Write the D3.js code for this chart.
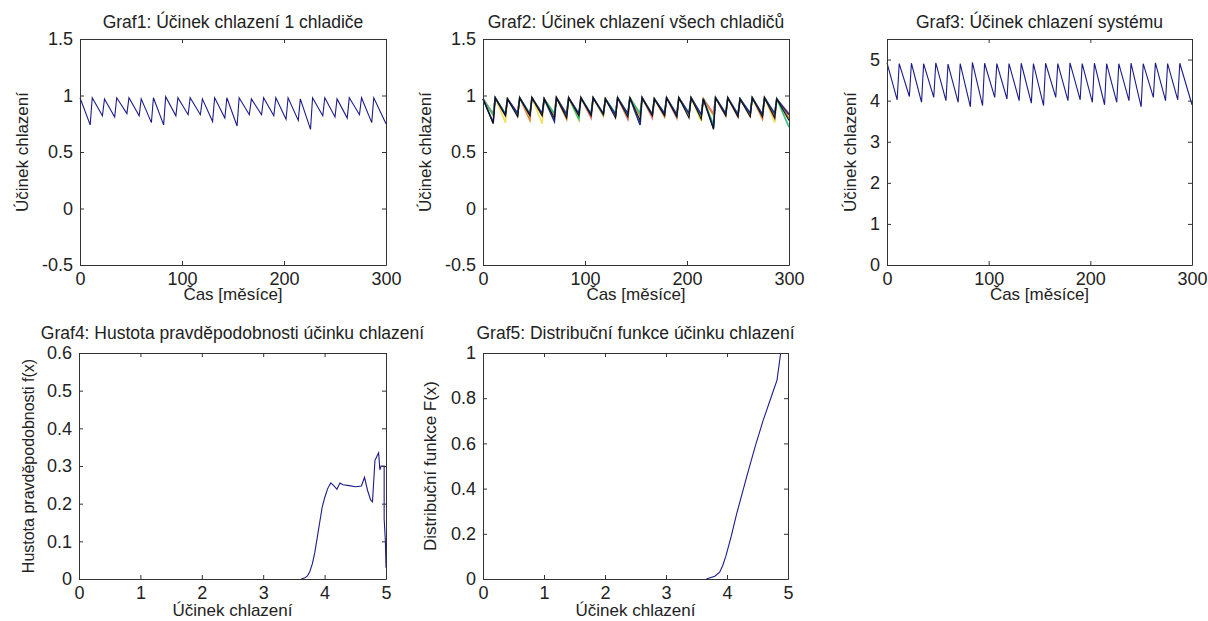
<!DOCTYPE html>
<html>
<head>
<meta charset="utf-8">
<script src="https://cdn.jsdelivr.net/npm/d3@7"></script>
<style>
  body { margin: 0; background: #fff; }
  svg text { font-family: Arial, "Liberation Sans", sans-serif; fill: #222; }
  .axis path, .axis line { stroke: #333; }
</style>
</head>
<body>
<svg id="fig" width="1208" height="621"></svg>
<script>
// time axis of the sawtooth plots (months)
var peakMonths = [0,12,24,36,48,60,72,84,96,108,120,132,144,156,168,180,192,204,216,228,240,252,264,276,288];
var troughMonths = [10,22,34,46,58,70,82,94,106,118,130,142,154,166,178,190,202,214,226,238,250,262,274,286,300];

// Graf1 - one cooler
var g1Peaks = [0.98,0.98,0.97,0.98,0.98,0.97,0.98,0.99,0.98,0.98,0.97,0.98,0.98,0.98,0.97,0.98,0.98,0.98,0.97,0.98,0.98,0.97,0.98,0.98,0.98];
var g1Troughs = [0.74,0.82,0.81,0.84,0.82,0.76,0.74,0.82,0.83,0.83,0.77,0.80,0.73,0.83,0.83,0.82,0.79,0.78,0.70,0.82,0.81,0.80,0.83,0.76,0.75];

// Graf2 - all coolers
var g2Peaks = [0.97,0.98,0.97,0.98,0.98,0.97,0.98,0.98,0.98,0.98,0.97,0.98,0.98,0.98,0.97,0.98,0.98,0.98,0.97,0.98,0.98,0.97,0.98,0.98,0.97];
var g2Names = ["yellow","orange","red","green","blue","black"];
var g2Colors = ["#f2e25a","#d98a3a","#e07a6e","#3cc07e","#1e2f8c","#111111"];
var g2Yellow = [0.82,0.76,0.83,0.82,0.75,0.83,0.82,0.78,0.83,0.82,0.83,0.82,0.83,0.82,0.83,0.82,0.83,0.77,0.82,0.83,0.82,0.83,0.82,0.76,0.82];
var g2Orange = [0.83,0.82,0.83,0.78,0.82,0.83,0.79,0.82,0.83,0.82,0.83,0.80,0.82,0.83,0.81,0.82,0.83,0.82,0.83,0.82,0.83,0.82,0.79,0.82,0.80];
var g2Red    = [0.84,0.83,0.84,0.83,0.84,0.83,0.84,0.83,0.80,0.84,0.83,0.79,0.84,0.80,0.83,0.80,0.84,0.83,0.84,0.83,0.81,0.84,0.83,0.80,0.84];
var g2Green  = [0.83,0.84,0.83,0.84,0.83,0.84,0.83,0.79,0.84,0.83,0.84,0.83,0.84,0.83,0.84,0.83,0.84,0.82,0.74,0.84,0.83,0.84,0.83,0.84,0.72];
var g2Blue   = [0.76,0.83,0.84,0.83,0.84,0.77,0.83,0.84,0.83,0.84,0.83,0.84,0.74,0.83,0.84,0.83,0.84,0.83,0.71,0.84,0.83,0.84,0.83,0.84,0.83];
var g2Black  = [0.75,0.82,0.81,0.82,0.82,0.80,0.80,0.82,0.82,0.83,0.80,0.81,0.78,0.82,0.82,0.81,0.80,0.79,0.70,0.82,0.81,0.81,0.81,0.80,0.78];

// Graf3 - system
var g3Peaks = [4.92,4.90,4.91,4.90,4.92,4.89,4.90,4.93,4.91,4.90,4.90,4.91,4.90,4.91,4.90,4.92,4.90,4.91,4.90,4.90,4.91,4.90,4.92,4.90,4.91];
var g3Troughs = [4.02,4.10,3.96,4.08,4.00,3.96,3.85,3.88,4.08,4.04,4.00,3.94,3.88,4.08,4.00,4.02,3.96,3.90,3.96,4.00,3.85,4.08,4.00,4.02,3.90];

// Graf4 - density
var densX = [3.62,3.68,3.72,3.76,3.80,3.84,3.88,3.92,3.96,4.00,4.05,4.10,4.15,4.20,4.25,4.30,4.40,4.50,4.60,4.65,4.70,4.75,4.78,4.82,4.85,4.88,4.90,4.92,4.97,4.97,4.99,5.00];
var densY = [0.00,0.003,0.008,0.02,0.04,0.07,0.11,0.15,0.19,0.215,0.24,0.255,0.248,0.238,0.255,0.25,0.248,0.245,0.247,0.27,0.235,0.21,0.205,0.315,0.325,0.335,0.29,0.30,0.30,0.16,0.10,0.03];

// Graf5 - distribution function
var cdfX = [3.66,3.80,3.88,3.93,3.98,4.07,4.16,4.32,4.46,4.59,4.75,4.82,4.88];
var cdfY = [0.00,0.012,0.03,0.06,0.10,0.19,0.29,0.45,0.585,0.70,0.825,0.88,1.00];

var timeTicks = [0,100,200,300];
var effTicks = [0,1,2,3,4,5];

function sawtooth(peaks, troughs) {
  var pts = [];
  for (var i = 0; i < peakMonths.length; i++) {
    pts.push([peakMonths[i], peaks[i]]);
    pts.push([troughMonths[i], troughs[i]]);
  }
  return pts;
}

function zip(xs, ys) {
  return xs.map(function(x, i) { return [x, ys[i]]; });
}

var svg = d3.select("#fig");
var fmt = function(d) { return String(+d.toFixed(2)); };

function panel(cfg) {
  var x = d3.scaleLinear().domain(cfg.xDomain).range([cfg.left, cfg.right]);
  var y = d3.scaleLinear().domain(cfg.yDomain).range([cfg.bottom, cfg.top]);
  var g = svg.append("g");

  var line = d3.line().x(function(d) { return x(d[0]); }).y(function(d) { return y(d[1]); });
  cfg.series.forEach(function(s) {
    g.append("path")
      .attr("d", line(s.data))
      .attr("fill", "none")
      .attr("stroke", s.color)
      .attr("stroke-width", s.width || 1.1);
  });

  // box + inward ticks, MATLAB style
  g.append("g").attr("class", "axis")
    .attr("transform", "translate(0," + cfg.bottom + ")")
    .call(d3.axisBottom(x).tickValues(cfg.xTicks).tickSizeInner(-4).tickSizeOuter(0).tickFormat(fmt))
    .selectAll("text").attr("font-size", 18).attr("y", 20).attr("dy", null);
  g.append("g").attr("class", "axis")
    .attr("transform", "translate(0," + cfg.top + ")")
    .call(d3.axisTop(x).tickValues(cfg.xTicks).tickSizeInner(-4).tickSizeOuter(0).tickFormat(""));
  g.append("g").attr("class", "axis")
    .attr("transform", "translate(" + cfg.left + ",0)")
    .call(d3.axisLeft(y).tickValues(cfg.yTicks).tickSizeInner(-4).tickSizeOuter(0).tickPadding(7).tickFormat(fmt))
    .selectAll("text").attr("font-size", 18);
  g.append("g").attr("class", "axis")
    .attr("transform", "translate(" + cfg.right + ",0)")
    .call(d3.axisRight(y).tickValues(cfg.yTicks).tickSizeInner(-4).tickSizeOuter(0).tickFormat(""));

  g.append("text")
    .attr("x", (cfg.left + cfg.right) / 2).attr("y", cfg.titleY)
    .attr("text-anchor", "middle").attr("font-size", 17.5)
    .text(cfg.title);
  g.append("text")
    .attr("x", (cfg.left + cfg.right) / 2).attr("y", cfg.xLabelY)
    .attr("text-anchor", "middle").attr("font-size", 17)
    .text(cfg.xLabel);
  g.append("text")
    .attr("transform", "translate(" + cfg.yLabelX + "," + (cfg.top + cfg.bottom) / 2 + ") rotate(-90)")
    .attr("text-anchor", "middle").attr("dy", "0.35em").attr("font-size", cfg.yLabelSize || 17)
    .text(cfg.yLabel);
}

var navy = "#1c1c8a";

panel({
  left: 80, right: 386, top: 39, bottom: 265, titleY: 28, xLabelY: 300,
  xDomain: [0, 300], yDomain: [-0.5, 1.5],
  xTicks: timeTicks, yTicks: [-0.5, 0, 0.5, 1, 1.5],
  title: "Graf1: Účinek chlazení 1 chladiče",
  xLabel: "Čas [měsíce]", yLabel: "Účinek chlazení", yLabelX: 22,
  series: [{ data: sawtooth(g1Peaks, g1Troughs), color: navy }]
});

var g2Troughs = [g2Yellow, g2Orange, g2Red, g2Green, g2Blue, g2Black];
panel({
  left: 483, right: 789, top: 39, bottom: 265, titleY: 28, xLabelY: 300,
  xDomain: [0, 300], yDomain: [-0.5, 1.5],
  xTicks: timeTicks, yTicks: [-0.5, 0, 0.5, 1, 1.5],
  title: "Graf2: Účinek chlazení všech chladičů",
  xLabel: "Čas [měsíce]", yLabel: "Účinek chlazení", yLabelX: 425,
  series: g2Names.map(function(n, i) {
    return { data: sawtooth(g2Peaks, g2Troughs[i]), color: g2Colors[i], width: n === "black" ? 1.1 : 1.6 };
  })
});

panel({
  left: 887, right: 1192, top: 39, bottom: 265, titleY: 28, xLabelY: 300,
  xDomain: [0, 300], yDomain: [0, 5.5],
  xTicks: timeTicks, yTicks: [0, 1, 2, 3, 4, 5],
  title: "Graf3: Účinek chlazení systému",
  xLabel: "Čas [měsíce]", yLabel: "Účinek chlazení", yLabelX: 850,
  series: [{ data: sawtooth(g3Peaks, g3Troughs), color: navy }]
});

panel({
  left: 79, right: 386, top: 353, bottom: 579, titleY: 339, xLabelY: 616,
  xDomain: [0, 5], yDomain: [0, 0.6],
  xTicks: effTicks, yTicks: [0, 0.1, 0.2, 0.3, 0.4, 0.5, 0.6],
  title: "Graf4: Hustota pravděpodobnosti účinku chlazení",
  xLabel: "Účinek chlazení", yLabel: "Hustota pravděpodobnosti f(x)", yLabelX: 28, yLabelSize: 16,
  series: [{ data: zip(densX, densY), color: navy }]
});

panel({
  left: 483, right: 788, top: 353, bottom: 579, titleY: 339, xLabelY: 616,
  xDomain: [0, 5], yDomain: [0, 1],
  xTicks: effTicks, yTicks: [0, 0.2, 0.4, 0.6, 0.8, 1],
  title: "Graf5: Distribuční funkce účinku chlazení",
  xLabel: "Účinek chlazení", yLabel: "Distribuční funkce F(x)", yLabelX: 430,
  series: [{ data: zip(cdfX, cdfY), color: navy }]
});
</script>
</body>
</html>
